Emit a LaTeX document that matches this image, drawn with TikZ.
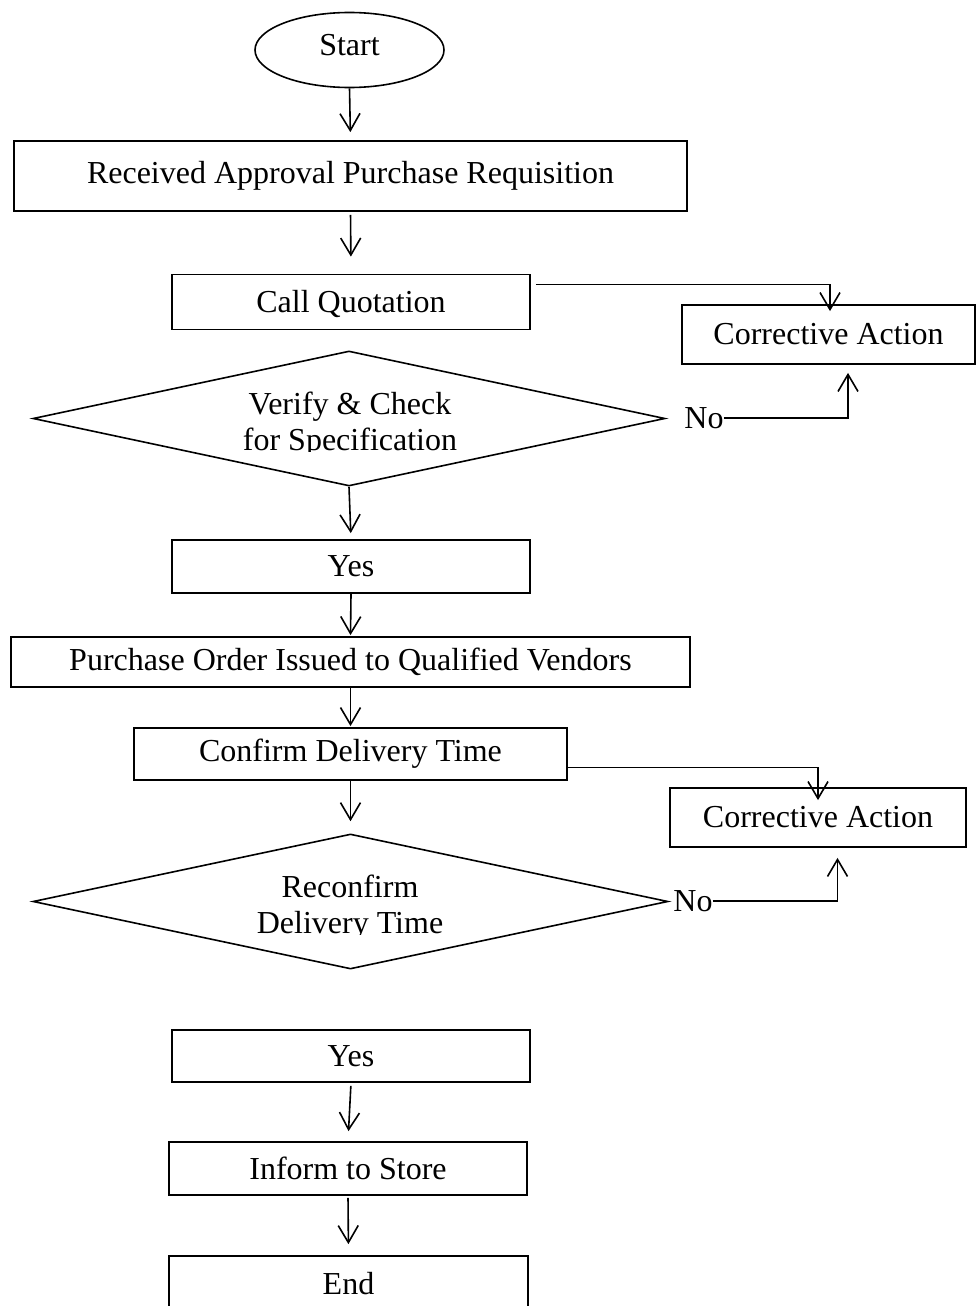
\documentclass[tikz,border=0pt]{standalone}
\usepackage{fontspec}
\setmainfont{Liberation Serif}
\usetikzlibrary{shapes.geometric,arrows.meta}
\begin{document}
\begin{tikzpicture}[x=1pt,y=-1pt,
  every node/.style={font=\fontsize{32}{36}\selectfont},
  box/.style={draw,line width=1.8pt,rectangle,inner sep=0pt},
  terminal/.style={draw,line width=1.6pt,ellipse,inner sep=0pt},
  decision/.style={draw,line width=1.6pt,diamond,inner sep=0pt},
  flow/.style={line width=1.6pt,-{Straight Barb[length=17pt,width=20pt,line width=1.6pt]}},
  answer/.style={inner sep=0pt}]
\useasboundingbox (0,0) rectangle (976,1306);

% main column
\node[terminal,minimum width=189pt,minimum height=75pt,text depth=10pt] (start) at (349.5,50) {Start};
\node[box,minimum width=673pt,minimum height=70pt] (req) at (350.5,176) {Received Approval Purchase Requisition};
\node[box,minimum width=358pt,minimum height=55pt,text depth=2pt] (quote) at (351,302) {Call Quotation};
\node[decision,minimum width=632pt,minimum height=135pt] (spec) at (349,418.5) {};
\node[box,minimum width=358pt,minimum height=53pt] (yesA) at (351,566.5) {Yes};
\node[box,minimum width=679pt,minimum height=50pt] (po) at (350.5,662) {Purchase Order Issued to Qualified Vendors};
\node[box,minimum width=433pt,minimum height=52pt] (deliv) at (350.5,754) {Confirm Delivery Time};
\node[decision,minimum width=635pt,minimum height=135pt] (recon) at (350.5,901.5) {};
\node[box,minimum width=358pt,minimum height=52pt] (yesB) at (351,1056) {Yes};
\node[box,minimum width=358pt,minimum height=53pt] (store) at (348,1168.5) {Inform to Store};
\node[box,minimum width=359pt,minimum height=56pt] (finish) at (348.5,1284) {End};

% decision texts, cut at the lower edge
\begin{scope}
  \clip (0,300) rectangle (976,451);
  \node[anchor=base] (specA) at (350,414) {Verify \& Check};
  \node[anchor=base] (specB) at (350,450) {for Specification};
\end{scope}
\begin{scope}
  \clip (0,840) rectangle (976,934);
  \node[anchor=base] (reconA) at (350,897) {Reconfirm};
  \node[anchor=base] (reconB) at (350,933) {Delivery Time};
\end{scope}

% side branches
\node[box,minimum width=293pt,minimum height=59pt,text depth=2pt] (fixA) at (828.5,334.5) {Corrective Action};
\node[box,minimum width=296pt,minimum height=59pt] (fixB) at (818,817.5) {Corrective Action};
\node[answer] (noA) at (704,418) {No};
\node[answer] (noB) at (693,901) {No};

% connectors
\draw[flow,shorten >=8pt] (start.south) -- (req.north);
\draw[flow,shorten <=3pt,shorten >=17pt] (req.south) -- (quote.north);
\draw[flow,shorten >=-7pt] ([xshift=5pt,yshift=17.5pt]quote.east) -| ([xshift=1.5pt]fixA.north);
\draw[flow,shorten >=8pt] (noA.east) -| ([xshift=19.5pt]fixA.south);
\draw[flow,shorten >=6pt] (spec.south) -- (yesA.north);
\draw[flow,shorten >=1pt] (yesA.south) -- (po.north);
\draw[flow,shorten >=1pt] (po.south) -- (deliv.north);
\draw[flow,shorten >=12pt] (deliv.south) -- (recon.north);
\draw[flow,shorten >=-13pt] ([yshift=-13.5pt]deliv.east) -| (fixB.north);
\draw[flow,shorten >=10pt] (noB.east) -| ([xshift=19.5pt]fixB.south);
\draw[flow,shorten <=3pt,shorten >=10pt] (yesB.south) -- (store.north);
\draw[flow,shorten <=2pt,shorten >=11pt] (store.south) -- (finish.north);
\end{tikzpicture}
\end{document}
